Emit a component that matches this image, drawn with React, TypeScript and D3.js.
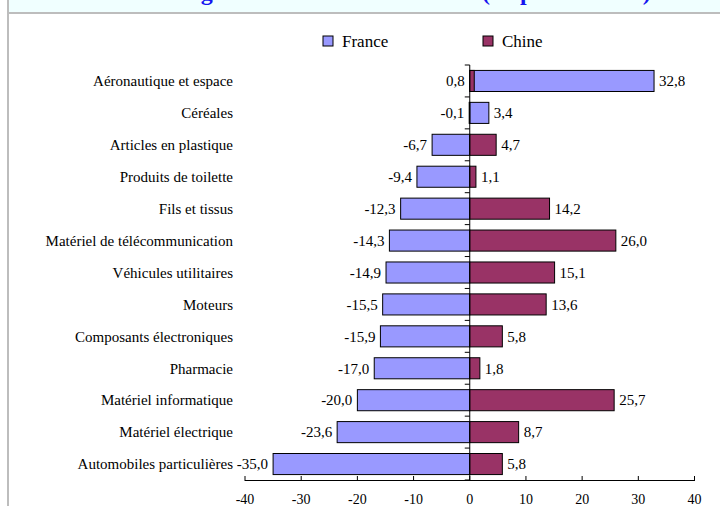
import React from "react";
import * as d3 from "d3";

const categories = [
  "Aéronautique et espace",
  "Céréales",
  "Articles en plastique",
  "Produits de toilette",
  "Fils et tissus",
  "Matériel de télécommunication",
  "Véhicules utilitaires",
  "Moteurs",
  "Composants électroniques",
  "Pharmacie",
  "Matériel informatique",
  "Matériel électrique",
  "Automobiles particulières",
];
const france = [32.8, 3.4, -6.7, -9.4, -12.3, -14.3, -14.9, -15.5, -15.9, -17.0, -20.0, -23.6, -35.0];
const chine = [0.8, -0.1, 4.7, 1.1, 14.2, 26.0, 15.1, 13.6, 5.8, 1.8, 25.7, 8.7, 5.8];
const xTicks = [-40, -30, -20, -10, 0, 10, 20, 30, 40];
const seriesNames = ["France", "Chine"];
const titleMain = "Évolution des avantages relatifs France-Chine";
const titleUnit = "(en points de %)";

const W = 720;
const H = 506;
const FONT = "Liberation Serif, Times New Roman, serif";
const BLUE = "#9999FF";
const MAROON = "#993366";

const fmt = (v: number) => v.toFixed(1).replace(".", ",");

export default function App() {
  const x = d3.scaleLinear().domain([-40, 40]).range([245, 694.5]);
  const y = d3
    .scaleBand<string>()
    .domain(categories)
    .range([65, 480])
    .paddingInner(0.34)
    .paddingOuter(0.17);
  const step = y.step();
  const x0 = x(0);
  const bw = y.bandwidth();
  const tStyle = { fontFamily: FONT };

  const barRect = (v: number, cat: string, fill: string, key: string) => {
    const a = x(Math.min(0, v));
    const b = x(Math.max(0, v));
    return (
      <rect key={key} x={a} y={y(cat)!} width={Math.max(0, b - a)} height={bw} fill={fill} stroke="#000" strokeWidth={1} />
    );
  };

  return (
    <svg width={W} height={H} style={{ position: "absolute", left: 0, top: 0, background: "#fff", fontFamily: FONT }}>
      {/* frame & title band */}
      <rect x={9} y={0} width={W - 9} height={12} fill="#F0FFFF" />
      <text y={0} fontSize={24} fontWeight="bold" fill="#1515F0" style={tStyle}>
        <tspan x={-14}>{titleMain}</tspan>
        <tspan x={482}>{titleUnit}</tspan>
      </text>
      <rect x={8} y={12} width={W - 8} height={2} fill="#BDBDBD" />
      <rect x={7} y={0} width={2} height={H} fill="#BDBDBD" />

      {/* legend */}
      {seriesNames.map((n, i) => {
        const lx = i === 0 ? 323 : 483;
        return (
          <g key={n}>
            <rect x={lx} y={36} width={10} height={10} fill={i === 0 ? BLUE : MAROON} stroke="#000" strokeWidth={1} />
            <text x={lx + 19} y={47} fontSize={17} fill="#000" style={tStyle}>{n}</text>
          </g>
        );
      })}

      {/* category labels */}
      {categories.map((c) => (
        <text key={c} x={233} y={y(c)! + bw / 2} dy="0.35em" textAnchor="end" fontSize={15} fill="#000" style={tStyle}>
          {c}
        </text>
      ))}

      {/* bars */}
      {categories.map((c, i) => barRect(france[i], c, BLUE, "f" + i))}
      {categories.map((c, i) => barRect(chine[i], c, MAROON, "c" + i))}

      {/* value labels */}
      {categories.map((c, i) => {
        const f = france[i];
        const ch = chine[i];
        const lo = f <= ch ? f : ch;
        const hi = f <= ch ? ch : f;
        const cy = y(c)! + bw / 2;
        return (
          <g key={"l" + i} fontSize={15} fill="#000">
            <text x={x(Math.min(lo, 0)) - 5} y={cy} dy="0.35em" textAnchor="end" style={tStyle}>{fmt(lo)}</text>
            <text x={x(Math.max(hi, 0)) + 5} y={cy} dy="0.35em" textAnchor="start" style={tStyle}>{fmt(hi)}</text>
          </g>
        );
      })}

      {/* vertical axis */}
      <line x1={x0} x2={x0} y1={65} y2={480} stroke="#000" strokeWidth={1} />
      {d3.range(categories.length + 1).map((i) => (
        <line key={"vt" + i} x1={x0 - 5} x2={x0} y1={65 + i * step} y2={65 + i * step} stroke="#000" strokeWidth={1} />
      ))}

      {/* horizontal axis */}
      <line x1={x(-40)} x2={x(40)} y1={480.5} y2={480.5} stroke="#000" strokeWidth={1} />
      {xTicks.map((t) => (
        <g key={"xt" + t}>
          <line x1={x(t)} x2={x(t)} y1={476} y2={481} stroke="#000" strokeWidth={1} />
          <text x={x(t)} y={504} textAnchor="middle" fontSize={14} fill="#000" style={tStyle}>{t}</text>
        </g>
      ))}
    </svg>
  );
}
